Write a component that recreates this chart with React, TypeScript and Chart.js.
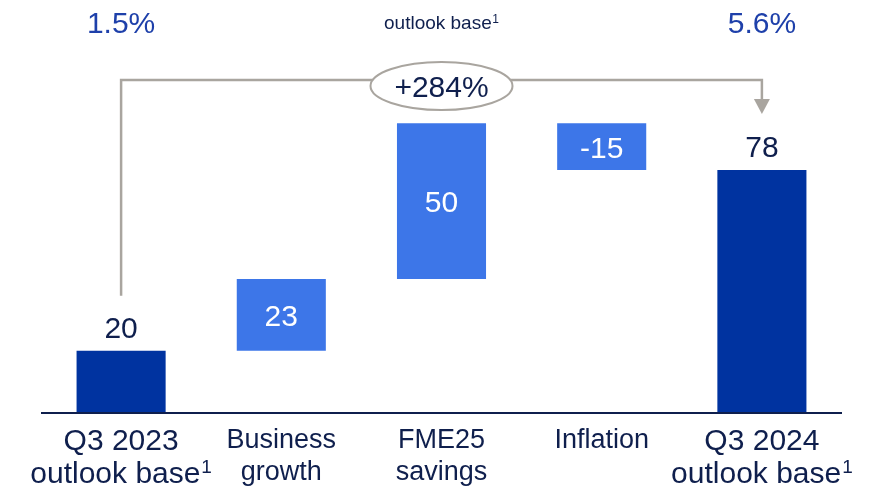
import React, { useEffect, useRef } from "react";
import { Chart, registerables } from "chart.js";

Chart.register(...registerables);

// ---- data ----
const categories: string[][] = [
  ["Q3 2023", "outlook base¹"],
  ["Business", "growth"],
  ["FME25", "savings"],
  ["Inflation"],
  ["Q3 2024", "outlook base¹"],
];
const values = [20, 23, 50, -15, 78];
const isTotal = [true, false, false, false, true];
const valueLabels = ["20", "23", "50", "-15", "78"];
const topLabels = ["1.5%", "outlook base¹", "5.6%"];
const changeLabel = "+284%";
const yMin = 0;
const yMax = 99.5;

// build floating ranges
const ranges: [number, number][] = [];
{
  let running = 0;
  values.forEach((v, i) => {
    if (isTotal[i]) {
      ranges.push([0, v]);
      running = v;
    } else {
      ranges.push([running, running + v]);
      running += v;
    }
  });
}

const DARK = "#0033A0";
const LIGHT = "#3D76E8";
const NAVY = "#0F1F4D";
const BLUE = "#1E40AA";
const GRAY = "#A9A59F";
const FONT = "'Liberation Sans', Arial, sans-serif";

// draws text centred at x, rendering "¹" as a raised small "1"
function drawRich(ctx: CanvasRenderingContext2D, text: string, x: number, y: number, size: number) {
  const parts = text.split("¹");
  const supSize = Math.round(size * 0.62);
  ctx.font = `${size}px ${FONT}`;
  const mainW = ctx.measureText(parts[0]).width;
  let supW = 0;
  if (parts.length > 1) {
    ctx.font = `${supSize}px ${FONT}`;
    supW = ctx.measureText("1").width + size * 0.03;
  }
  const total = mainW + supW;
  const left = x - total / 2;
  ctx.textAlign = "left";
  ctx.font = `${size}px ${FONT}`;
  ctx.fillText(parts[0], left, y);
  if (parts.length > 1) {
    ctx.font = `${supSize}px ${FONT}`;
    ctx.fillText("1", left + mainW + size * 0.03, y - size * 0.33);
  }
  ctx.textAlign = "center";
}

const overlay = {
  id: "overlay",
  afterDraw(chart: any) {
    const ctx = chart.ctx as CanvasRenderingContext2D;
    const area = chart.chartArea;
    const xs = chart.scales.x;
    const ys = chart.scales.y;
    ctx.save();

    // axis line
    ctx.strokeStyle = NAVY;
    ctx.lineWidth = 2;
    ctx.beginPath();
    ctx.moveTo(area.left, area.bottom);
    ctx.lineTo(area.right, area.bottom);
    ctx.stroke();

    // value labels
    ctx.textAlign = "center";
    ctx.textBaseline = "alphabetic";
    ranges.forEach((r, i) => {
      const x = xs.getPixelForValue(i);
      const yTop = ys.getPixelForValue(Math.max(r[0], r[1]));
      const yBot = ys.getPixelForValue(Math.min(r[0], r[1]));
      ctx.font = `30px ${FONT}`;
      if (isTotal[i]) {
        ctx.fillStyle = NAVY;
        ctx.fillText(valueLabels[i], x, yTop - 13);
      } else {
        ctx.fillStyle = "#FFFFFF";
        ctx.fillText(valueLabels[i], x, (yTop + yBot) / 2 + 11);
      }
    });

    // category labels
    ctx.fillStyle = NAVY;
    categories.forEach((lines, i) => {
      const x = xs.getPixelForValue(i);
      const big = isTotal[i];
      lines.forEach((t, j) => {
        const base = big ? 450 + j * 33 : 448 + j * 32;
        drawRich(ctx, t, x, base, big ? 30 : 27);
      });
    });

    // top labels
    const x0 = xs.getPixelForValue(0);
    const x4 = xs.getPixelForValue(categories.length - 1);
    ctx.fillStyle = BLUE;
    ctx.font = `30px ${FONT}`;
    ctx.fillText(topLabels[0], x0, 33);
    ctx.fillText(topLabels[2], x4, 33);
    ctx.fillStyle = NAVY;
    drawRich(ctx, topLabels[1], (x0 + x4) / 2, 29, 19);

    // bracket
    const yLine = area.top - 23;
    const top0 = ys.getPixelForValue(ranges[0][1]);
    const top4 = ys.getPixelForValue(ranges[4][1]);
    ctx.strokeStyle = GRAY;
    ctx.lineWidth = 2.5;
    ctx.beginPath();
    ctx.moveTo(x0, top0 - 55);
    ctx.lineTo(x0, yLine);
    ctx.lineTo(x4, yLine);
    ctx.lineTo(x4, top4 - 70);
    ctx.stroke();
    ctx.fillStyle = GRAY;
    ctx.beginPath();
    ctx.moveTo(x4 - 8, top4 - 71);
    ctx.lineTo(x4 + 8, top4 - 71);
    ctx.lineTo(x4, top4 - 56);
    ctx.closePath();
    ctx.fill();

    // ellipse with change label
    const cx = (x0 + x4) / 2;
    const cy = yLine + 6;
    ctx.beginPath();
    ctx.ellipse(cx, cy, 71, 24, 0, 0, Math.PI * 2);
    ctx.fillStyle = "#FFFFFF";
    ctx.fill();
    ctx.lineWidth = 2;
    ctx.strokeStyle = GRAY;
    ctx.stroke();
    ctx.fillStyle = NAVY;
    ctx.font = `30px ${FONT}`;
    ctx.fillText(changeLabel, cx, cy + 11);

    ctx.restore();
  },
};

export default function App() {
  const ref = useRef<HTMLCanvasElement | null>(null);
  useEffect(() => {
    if (!ref.current) return;
    const chart = new Chart(ref.current, {
      type: "bar",
      data: {
        labels: categories.map((c) => c.join(" ")),
        datasets: [
          {
            data: ranges as any,
            backgroundColor: isTotal.map((t) => (t ? DARK : LIGHT)),
            borderWidth: 0,
            barPercentage: 0.556,
            categoryPercentage: 1,
          },
        ],
      },
      options: {
        responsive: false,
        animation: false,
        devicePixelRatio: 1,
        layout: { padding: { left: 41, right: 30, top: 103, bottom: 79 } },
        plugins: { legend: { display: false }, tooltip: { enabled: false } },
        scales: {
          x: { display: false },
          y: { display: false, min: yMin, max: yMax },
        },
      },
      plugins: [overlay],
    });
    return () => chart.destroy();
  }, []);
  return (
    <div style={{ position: "absolute", left: 0, top: 0, width: 872, height: 492, background: "#fff" }}>
      <canvas ref={ref} width={872} height={492} style={{ display: "block" }} />
    </div>
  );
}
